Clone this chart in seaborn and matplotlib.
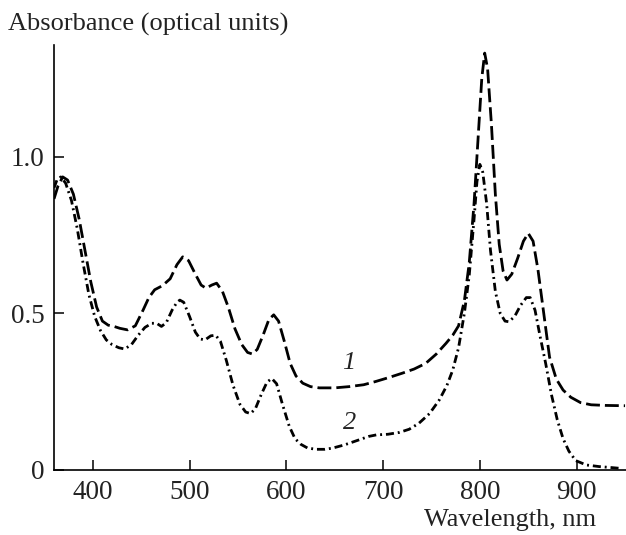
import matplotlib
matplotlib.use("Agg")
import matplotlib.pyplot as plt
import pandas as pd
import seaborn as sns

# curve 1 (dashed)
wl_1 = [360, 364, 369, 374, 380, 386, 392, 398, 404, 410, 416, 422, 428, 436, 444, 452, 458, 464,
        472, 480, 487, 493, 499, 506, 512, 517, 523, 528, 534, 540, 547, 554, 560, 565, 570, 576,
        582, 587, 592, 598, 604, 610, 617, 625, 634, 650, 665, 680, 692, 706, 720, 732, 744, 755,
        765, 772, 778, 784, 789, 794, 798, 802, 805, 808, 812, 816, 820, 824, 828, 833, 839, 845,
        850, 855, 860, 866, 872, 879, 886, 894, 904, 915, 930, 950]
abs_1 = [0.865, 0.905, 0.935, 0.925, 0.88, 0.80, 0.70, 0.60, 0.52, 0.475, 0.462, 0.458, 0.452,
         0.447, 0.46, 0.51, 0.55, 0.575, 0.588, 0.61, 0.655, 0.68, 0.668, 0.625, 0.59, 0.58, 0.59,
         0.596, 0.57, 0.52, 0.45, 0.40, 0.375, 0.37, 0.385, 0.43, 0.48, 0.495, 0.475, 0.41, 0.34,
         0.30, 0.277, 0.266, 0.262, 0.262, 0.266, 0.272, 0.282, 0.295, 0.309, 0.322, 0.34, 0.37,
         0.404, 0.43, 0.46, 0.54, 0.66, 0.85, 1.05, 1.25, 1.33, 1.28, 1.10, 0.88, 0.72, 0.635,
         0.606, 0.625, 0.675, 0.73, 0.755, 0.73, 0.64, 0.50, 0.36, 0.29, 0.255, 0.232, 0.215,
         0.208, 0.206, 0.205]

# curve 2 (dash-dot)
wl_2 = [360, 363, 367, 372, 378, 384, 390, 396, 402, 408, 414, 420, 427, 433, 440, 447, 454, 461,
        466, 471, 476, 482, 487, 490, 494, 500, 506, 511, 516, 522, 527, 532, 538, 545, 552, 558,
        563, 568, 574, 580, 585, 590, 596, 603, 609, 615, 622, 631, 640, 648, 660, 675, 685, 693,
        705, 717, 727, 737, 748, 758, 766, 772, 778, 784, 789, 794, 797, 800, 803, 807, 811, 816,
        821, 826, 830, 836, 842, 848, 852, 857, 862, 868, 874, 880, 886, 892, 899, 910, 923, 935,
        946]
abs_2 = [0.90, 0.925, 0.935, 0.915, 0.86, 0.77, 0.66, 0.56, 0.49, 0.445, 0.415, 0.40, 0.39, 0.386,
         0.40, 0.43, 0.455, 0.468, 0.468, 0.458, 0.47, 0.51, 0.535, 0.542, 0.535, 0.49, 0.44,
         0.418, 0.415, 0.428, 0.43, 0.41, 0.35, 0.27, 0.21, 0.185, 0.18, 0.195, 0.24, 0.28, 0.292,
         0.275, 0.21, 0.14, 0.10, 0.082, 0.07, 0.066, 0.066, 0.07, 0.08, 0.096, 0.107, 0.112,
         0.114, 0.12, 0.13, 0.149, 0.18, 0.223, 0.27, 0.319, 0.39, 0.50, 0.62, 0.80, 0.92, 0.975,
         0.95, 0.85, 0.70, 0.57, 0.50, 0.475, 0.473, 0.49, 0.525, 0.55, 0.55, 0.51, 0.43, 0.34,
         0.24, 0.16, 0.10, 0.06, 0.03, 0.016, 0.011, 0.008, 0.005]

x_ticks = [400, 500, 600, 700, 800, 900]
y_ticks = [0, 0.5, 1.0]
y_ticklabels = ["0", "0.5", "1.0"]

sns.set_style("ticks")
plt.rcParams['font.family'] = ['Liberation Serif', 'DejaVu Serif']
plt.rcParams['text.color'] = '#222222'

df = pd.concat([
    pd.DataFrame({"wl": wl_1, "absorbance": abs_1, "curve": "1"}),
    pd.DataFrame({"wl": wl_2, "absorbance": abs_2, "curve": "2"}),
])

fig = plt.figure(figsize=(6.26, 5.35), dpi=100)
ax = fig.add_axes([0.0863, 0.1215, 0.9137, 0.7945])

sns.lineplot(data=df, x="wl", y="absorbance", style="curve",
             dashes={"1": (5.0, 1.8), "2": (2.9, 1.4, 0.7, 1.4)},
             color="black", linewidth=2.0, legend=False, ax=ax, sort=False)

ax.set_xlim(360, 951)
ax.set_ylim(0, 1.356)
ax.set_xticks(x_ticks)
ax.set_yticks(y_ticks)
ax.set_yticklabels(y_ticklabels)
ax.tick_params(direction="in", length=7, width=1.1, labelsize=19.5, colors="black",
               labelcolor="#222222", pad=7)
ax.set_xlabel("")
ax.set_ylabel("")
sns.despine(ax=ax)
for s in ["left", "bottom"]:
    ax.spines[s].set_linewidth(1.2)
    ax.spines[s].set_color("black")

ax.text(664, 0.34, "1", fontsize=19, style="italic", ha="center", va="center")
ax.text(665, 0.15, "2", fontsize=19, style="italic", ha="center", va="center")

fig.text(8 / 626, 1 - 24 / 535, "Absorbance (optical units)", fontsize=19, ha="left", va="center")
fig.text(596 / 626, 1 - 520 / 535, "Wavelength, nm", fontsize=19, ha="right", va="center")

fig.savefig("out.png", dpi=100)
